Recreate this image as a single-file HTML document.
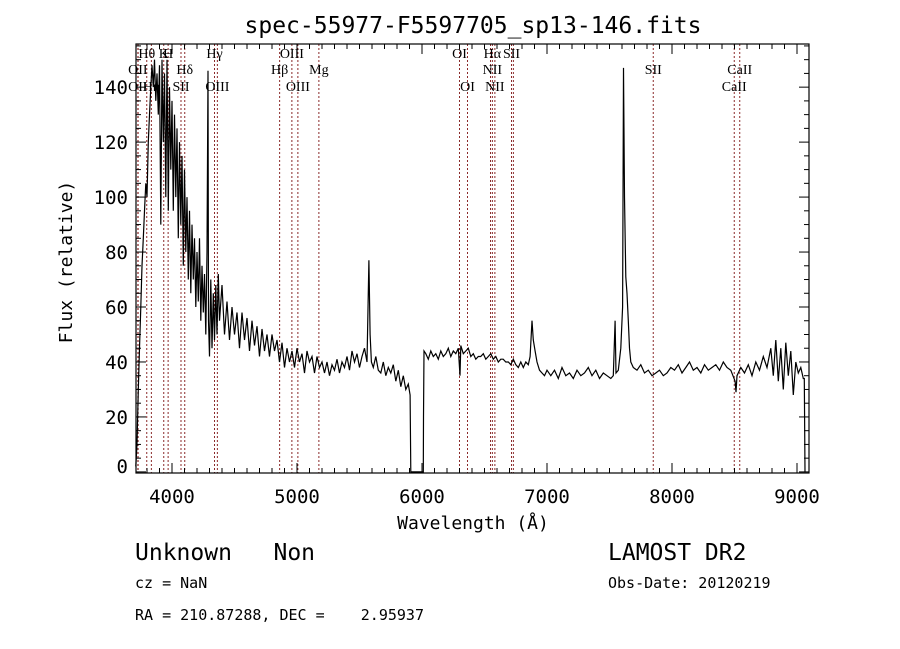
<!DOCTYPE html>
<html><head><meta charset="utf-8"><style>
body{margin:0;background:#fff;}
svg{display:block;}
text{font-family:"DejaVu Sans Mono","Liberation Mono",monospace;fill:#000;white-space:pre;}
text.lab{font-family:"Liberation Serif",serif;font-size:14px;}
</style></head><body>
<svg id="chart" width="900" height="649" viewBox="0 0 900 649" xmlns="http://www.w3.org/2000/svg" xml:space="preserve">
<rect width="900" height="649" fill="#fff"/>
<text x="473" y="33" text-anchor="middle" font-size="23">spec-55977-F5597705_sp13-146.fits</text>
<g id="lines"></g>
<g id="spec"></g>
<g id="axes"></g>
<text x="473" y="529" text-anchor="middle" font-size="18">Wavelength (Å)</text>
<text transform="translate(72,262) rotate(-90)" text-anchor="middle" font-size="18">Flux (relative)</text>
<text x="135" y="560" font-size="23">Unknown   Non</text>
<text x="135" y="588" font-size="15">cz = NaN</text>
<text x="135" y="620" font-size="15">RA = 210.87288, DEC =    2.95937</text>
<text x="608" y="560" font-size="23">LAMOST DR2</text>
<text x="608" y="588" font-size="15">Obs-Date: 20120219</text>
</svg>
<script>
const wave=[
3710,3720,3730,3740,3750,3760,3770,3780,3790,3800,
3810,3820,3830,3840,3850,3860,3870,3880,3890,3900,
3910,3920,3930,3940,3950,3960,3970,3980,3990,4000,
4010,4020,4030,4040,4050,4060,4070,4080,4090,4100,
4110,4120,4130,4140,4150,4160,4170,4180,4190,4200,
4210,4220,4230,4240,4250,4260,4270,4280,
4288,4292,4300,4310,4320,4330,4340,4350,4360,4370,
4380,4400,4420,4440,4460,4480,4500,4520,4540,4560,
4580,4600,4620,4640,4660,4680,4700,4720,4740,4760,
4780,4800,4820,4840,4860,4880,4900,4920,4940,4960,
4980,5000,5020,5040,5060,5080,5100,5120,5140,5160,
5180,5200,5220,5240,5260,5280,5300,5320,5340,5360,
5380,5400,5420,5440,5460,5480,5500,5520,5540,5560,
5575,5585,5595,
5610,5630,5650,5670,5690,5710,5730,5750,5770,5790,5810,5830,5850,5870,5890,
5905,5910,6010,6012,6016,
6030,6050,6070,6090,6110,6130,6150,6170,6190,6210,6230,6250,6270,6290,
6304,
6310,6330,6350,6370,6390,6410,6430,6450,6470,6490,
6510,6530,6550,6570,6590,6610,6630,6650,6670,6690,
6710,6730,6750,6770,6790,6810,6830,6850,
6865,6880,6890,6905,6920,6940,6960,6980,
7000,7030,7060,7090,7120,7150,7180,7210,7240,7270,7300,7330,7360,7390,7420,7450,7480,7510,
7530,7545,7552,7570,7590,7605,7612,7620,7630,7640,7650,7660,7670,7690,
7720,7750,7780,7810,7840,7870,7900,7930,7960,7990,
8020,8050,8080,8110,8140,8170,8200,8230,8260,8290,
8320,8350,8380,8410,8440,8470,
8505,8512,8520,
8550,8580,8610,8640,8670,8700,8730,8760,8790,
8810,8830,8850,8870,8890,8910,8930,8950,8970,8990,9010,9030,9050,
9058,9064];
const flux=[
2,10,30,45,60,75,85,95,105,100,
120,130,140,148,140,150,135,145,130,148,
90,150,120,145,100,150,95,140,110,135,
95,130,100,125,85,120,90,115,75,110,
80,100,70,95,65,90,70,85,60,80,
62,85,55,75,58,72,50,80,
146,55,42,70,45,65,48,68,50,72,
55,68,50,62,48,60,50,58,45,58,
48,56,44,55,46,53,42,52,44,50,
42,50,44,48,40,47,38,45,40,44,
38,45,40,43,36,44,40,42,36,42,
38,40,36,40,35,39,37,41,36,40,
38,42,37,44,40,43,38,42,45,40,
77,50,40,
38,42,37,36,40,35,38,36,39,33,37,31,35,30,32,
28,0,0,20,44,
43,41,44,42,43,41,44,42,43,45,42,44,43,45,
35,
46,43,44,45,42,43,41,42,42,43,
41,42,43,41,42,40,41,41,40,40,
39,41,39,38,40,38,40,39,
42,55,48,44,40,37,36,35,
37,35,37,34,38,35,36,34,37,35,36,38,35,37,34,36,35,34,
35,55,36,37,45,60,147,100,71,65,55,45,40,38,
37,39,36,37,35,36,37,35,36,38,
37,39,36,38,40,37,38,36,39,37,
38,39,37,40,38,37,
33,29,35,
38,36,39,35,40,37,42,38,45,
35,48,33,45,30,47,35,44,28,40,36,38,34,
34,0];
const lineWave=[3727,3729,3798,3835,3934,3969,4072,4102,4340,4363,4861,4959,5007,5175,6300,6364,6548,6563,6583,6716,6731,7850,8498,8542];
const lineLabels=[["Hθ",3798,1],["K",3934,1],["H",3969,1],["OII",3727,2],["Hδ",4102,2],["Hγ",4340,1],["OIII",4363,3],["Hβ",4861,2],["OIII",4959,1],["OIII",5007,3],["Mg",5175,2],["OI",6300,1],["OI",6364,3],["Hα",6563,1],["SII",6716,1],["NII",6563,2],["NII",6583,3],["SII",7850,2],["CaII",8542,2],["CaII",8498,3],["OII",3727,3],["Hη",3835,3],["SII",4072,3]];
const xTicks=[4000,5000,6000,7000,8000,9000];
const yTicks=[0,20,40,60,80,100,120,140];

const X0=136,X1=809,Y0=44,Y1=473;
const xMin=3712,xMax=9096,yMin=-0.4,yMax=155.7;
const sx=w=>X0+(w-xMin)/(xMax-xMin)*(X1-X0);
const sy=v=>Y1-(v-yMin)/(yMax-yMin)*(Y1-Y0);
const NS='http://www.w3.org/2000/svg';
function mk(tag,parent,attrs){const e=document.createElementNS(NS,tag);for(const k in attrs)e.setAttribute(k,attrs[k]);parent.appendChild(e);return e;}

const gl=document.getElementById('lines');
lineWave.forEach(w=>{
  const l=mk('line',gl,{x1:sx(w),x2:sx(w),y1:Y0,y2:Y1,stroke:'#8b2a2a','stroke-width':1,'stroke-dasharray':'2,2'});
  
  
});
const rowY=[74,58,74,91];
lineLabels.forEach(([t,w,r])=>{
  const e=mk('text',gl,{x:sx(w),y:rowY[r],'text-anchor':'middle',class:'lab'});
  e.textContent=t;
  
  
});

const gs=document.getElementById('spec');
let d='';
const n=Math.min(wave.length,flux.length);
for(let i=0;i<n;i++){d+=(i?'L':'M')+sx(wave[i]).toFixed(1)+','+sy(flux[i]).toFixed(1);}
const p=mk('path',gs,{d:d,fill:'none',stroke:'#000','stroke-width':1.2});



const ga=document.getElementById('axes');
const fr=mk('rect',ga,{x:X0,y:Y0,width:X1-X0,height:Y1-Y0,fill:'none',stroke:'#000','stroke-width':1.2});


for(let w=3800;w<=9000;w+=100){
  const big=w%1000==0, len=big?10:5;
  mk('line',ga,{x1:sx(w),x2:sx(w),y1:Y1,y2:Y1-len,stroke:'#000'});
  mk('line',ga,{x1:sx(w),x2:sx(w),y1:Y0,y2:Y0+len,stroke:'#000'});
}
for(let v=0;v<=155;v+=5){
  const big=v%20==0, len=big?10:5;
  mk('line',ga,{x1:X0,x2:X0+len,y1:sy(v),y2:sy(v),stroke:'#000'});
  mk('line',ga,{x1:X1,x2:X1-len,y1:sy(v),y2:sy(v),stroke:'#000'});
}
xTicks.forEach(w=>{
  const t=mk('text',ga,{x:sx(w),y:503,'text-anchor':'middle','font-size':19});
  t.textContent=w;
  
  
});
yTicks.forEach(v=>{
  const t=mk('text',ga,{x:128,y:Math.min(sy(v)+7,473),'text-anchor':'end','font-size':19});
  t.textContent=v;
  
  
});
</script>
</body></html>
